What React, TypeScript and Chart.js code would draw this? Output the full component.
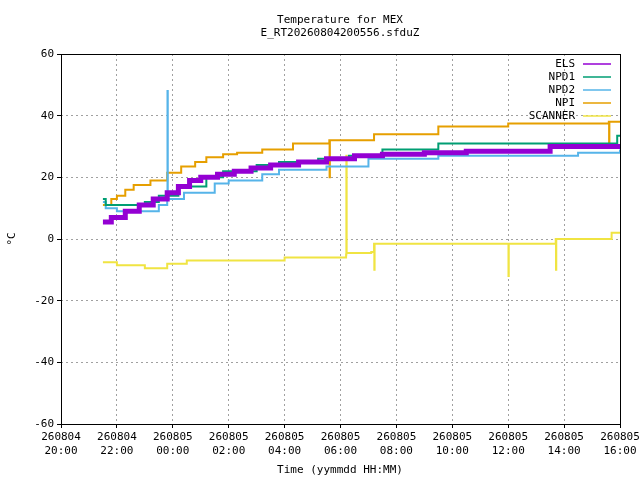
import React, { useEffect, useRef } from "react";
import { Chart, registerables } from "chart.js";
Chart.register(...registerables);

// hours since 260804 20:00
const tickLabels = [
  ["260804", "20:00"], ["260804", "22:00"], ["260805", "00:00"], ["260805", "02:00"],
  ["260805", "04:00"], ["260805", "06:00"], ["260805", "08:00"], ["260805", "10:00"],
  ["260805", "12:00"], ["260805", "14:00"], ["260805", "16:00"],
];
const seriesNames = ["ELS", "NPD1", "NPD2", "NPI", "SCANNER"];
const seriesColors = ["#9400d3", "#009e73", "#56b4e9", "#e69f00", "#f0e442"];
const seriesWidths = [5, 2, 2, 2, 2];

const elsX = [1.5, 1.8, 2.3, 2.8, 3.3, 3.8, 4.2, 4.6, 5.0, 5.6, 6.2, 6.8, 7.5, 8.5, 9.5, 10.5, 11.5, 13.0, 14.5, 17.5, 20];
const elsY = [5.5, 7, 9, 11, 13, 15, 17, 19, 20, 21, 22, 23, 24, 25, 26, 27, 27.5, 28, 28.5, 30, 30];
const npd1X = [1.5, 1.6, 2.0, 3.0, 3.5, 4.2, 5.2, 5.8, 7.0, 7.8, 9.2, 10.3, 11.5, 13.5, 16.0, 19.9, 20];
const npd1Y = [13, 11, 11, 12, 14, 17, 20, 22, 24, 25, 26, 27, 29, 31, 31, 33.5, 33.5];
const npd2X = [1.5, 1.6, 2.0, 3.5, 3.8, 3.81, 3.82, 4.4, 5.5, 6.0, 7.2, 7.8, 9.5, 11.0, 13.5, 18.5, 20];
const npd2Y = [12, 10, 9, 11, 13, 48, 13, 15, 18, 19, 21, 22.5, 23.5, 26, 27, 28, 29];
const npiX = [1.5, 1.8, 2.0, 2.3, 2.6, 3.2, 3.8, 4.3, 4.8, 5.2, 5.8, 6.3, 7.2, 8.3, 9.6, 9.61, 9.62, 11.2, 13.5, 16.0, 19.6, 19.61, 19.62, 20];
const npiY = [11, 13, 14, 16, 17.5, 19, 21.5, 23.5, 25, 26.5, 27.5, 28, 29, 31, 32, 20, 32, 34, 36.5, 37.5, 38, 30, 38, 38];
const scanX = [1.5, 2.0, 3.0, 3.8, 4.5, 8.0, 10.2, 10.21, 10.22, 11.1, 11.2, 11.21, 11.22, 16.0, 16.01, 16.02, 17.7, 17.71, 17.72, 19.7, 20];
const scanY = [-7.5, -8.5, -9.5, -8, -7, -6, -5, 27, -4.5, -4.2, -1.5, -10, -1.5, -1.5, -12, -1.5, 0, -10, 0, 2, 2];

const xs = [elsX, npd1X, npd2X, npiX, scanX];
const ys = [elsY, npd1Y, npd2Y, npiY, scanY];

export default function App() {
  const ref = useRef<HTMLCanvasElement>(null);
  useEffect(() => {
    const font = "DejaVu Sans Mono";
    const deco = {
      id: "deco",
      afterDraw(c: any) {
        const ctx = c.ctx;
        const a = c.chartArea;
        ctx.save();
        ctx.strokeStyle = "#000";
        ctx.lineWidth = 1;
        ctx.strokeRect(a.left + 0.5, a.top + 0.5, a.right - a.left, a.bottom - a.top);
        ctx.fillStyle = "#000";
        ctx.font = `11px '${font}'`;
        ctx.textAlign = "center";
        ctx.textBaseline = "middle";
        ctx.fillText("Temperature for MEX", 340, 20);
        ctx.fillText("E_RT20260804200556.sfduZ", 340, 33);
        ctx.fillText("Time (yymmdd HH:MM)", 340, 470);
        ctx.save();
        ctx.translate(12, 239);
        ctx.rotate(-Math.PI / 2);
        ctx.fillText("°C", 0, 0);
        ctx.restore();
        // legend
        ctx.textAlign = "right";
        seriesNames.forEach((n, i) => {
          const y = 64 + i * 13;
          ctx.fillStyle = "#000";
          ctx.fillText(n, 575, y);
          ctx.strokeStyle = seriesColors[i];
          ctx.lineWidth = 1.5;
          ctx.beginPath();
          ctx.moveTo(583, y);
          ctx.lineTo(611, y);
          ctx.stroke();
        });
        ctx.restore();
      },
    };
    const chart = new Chart(ref.current!, {
      type: "line",
      data: {
        datasets: seriesNames.map((n, i) => ({
          label: n,
          data: xs[i].map((x, j) => ({ x, y: ys[i][j] })),
          borderColor: seriesColors[i],
          backgroundColor: seriesColors[i],
          borderWidth: seriesWidths[i],
          pointRadius: 0,
          stepped: true,
        })),
      },
      options: {
        animation: false,
        responsive: false,
        layout: { padding: { top: 54, right: 20, left: 0, bottom: 0 } },
        plugins: { legend: { display: false }, tooltip: { enabled: false } },
        scales: {
          x: {
            type: "linear", min: 0, max: 20,
            afterFit: (s: any) => { s.height = 56; s.paddingRight = 0; s.paddingLeft = 0; },
            ticks: {
              stepSize: 2, autoSkip: false, maxRotation: 0, color: "#000",
              font: { family: font, size: 11 },
              callback: (v: any) => tickLabels[Math.round(v / 2)],
            },
            grid: { color: "#a0a0a0", tickColor: "#000", tickLength: 4 },
            border: { dash: [2, 3], display: false },
          },
          y: {
            min: -60, max: 60,
            afterFit: (s: any) => { s.width = 61; },
            ticks: { stepSize: 20, color: "#000", font: { family: font, size: 11 } },
            grid: { color: "#a0a0a0", tickColor: "#000", tickLength: 4 },
            border: { dash: [2, 3], display: false },
          },
        },
      },
      plugins: [deco],
    });
    return () => chart.destroy();
  }, []);
  return (
    <div style={{ position: "fixed", left: 0, top: 0, width: 640, height: 480, background: "#fff" }}>
      <canvas ref={ref} width={640} height={480} />
    </div>
  );
}
